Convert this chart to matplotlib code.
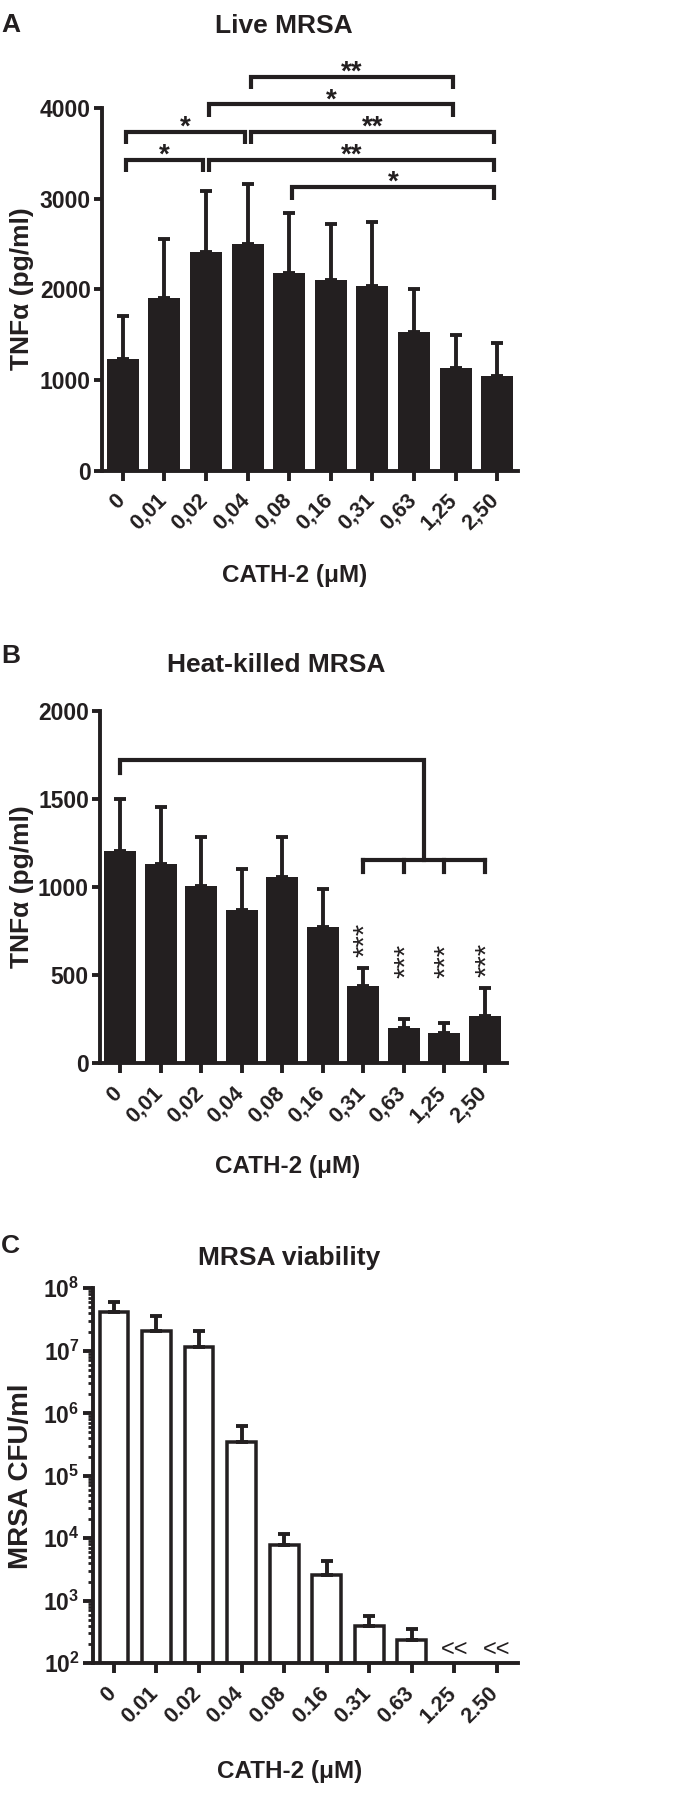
"""TNFa release by macrophages and MRSA viability across a CATH-2 dose range."""

import matplotlib

matplotlib.use("Agg")
import matplotlib.pyplot as plt
import numpy as np
from matplotlib.transforms import ScaledTranslation
from matplotlib.ticker import FixedLocator, LogLocator, NullFormatter

FIG_W, FIG_H = 681, 1793
INK = "#231f20"

DOSES_COMMA = ["0", "0,01", "0,02", "0,04", "0,08", "0,16", "0,31", "0,63", "1,25", "2,50"]
DOSES_DOT = ["0", "0.01", "0.02", "0.04", "0.08", "0.16", "0.31", "0.63", "1.25", "2.50"]

# panel A: live MRSA, TNFa (pg/ml), mean and top of the SD bar
LIVE_TNF = [1234, 1902, 2409, 2505, 2181, 2101, 2035, 1528, 1135, 1043]
LIVE_TNF_UPPER = [1708, 2556, 3085, 3162, 2846, 2718, 2740, 2001, 1498, 1403]
LIVE_PAIRS = [(4, 9), (0, 2), (2, 9), (0, 3), (3, 9), (2, 8), (3, 8)]
LIVE_STARS = ["*", "*", "**", "*", "**", "*", "**"]
LIVE_TIER = [0, 1, 1, 2, 2, 3, 4]

# panel B: heat-killed MRSA
HEAT_TNF = [1203, 1133, 1006, 871, 1055, 775, 439, 203, 174, 269]
HEAT_TNF_UPPER = [1500, 1451, 1286, 1102, 1286, 989, 542, 254, 229, 428]
HEAT_CONTROL = 0
HEAT_TREATED = [6, 7, 8, 9]
HEAT_STARS = "***"

# panel C: viability, CFU/ml (nan = below detection)
VIAB_CFU = [4.2e7, 2.1e7, 1.15e7, 3.5e5, 7.7e3, 2.6e3, 3.9e2, 2.4e2, np.nan, np.nan]
VIAB_CFU_UPPER = [6.0e7, 3.6e7, 2.1e7, 6.2e5, 1.17e4, 4.3e3, 5.8e2, 3.6e2, np.nan, np.nan]

plt.rcParams["font.family"] = ["Liberation Sans", "DejaVu Sans"]
plt.rcParams["font.weight"] = "bold"
plt.rcParams["mathtext.fontset"] = "custom"
plt.rcParams["mathtext.rm"] = "Liberation Sans:bold"
plt.rcParams["mathtext.bf"] = "Liberation Sans:bold"
plt.rcParams["mathtext.default"] = "bf"

LW = 2.8
YTICK, XTICK, TITLE, XLABEL = 16.5, 15.5, 19, 17.5


def fy(y):
    return 1 - y / FIG_H


fig = plt.figure(figsize=(FIG_W / 100, FIG_H / 100), dpi=100)


def add_axes_px(left, top, right, bottom):
    return fig.add_axes(
        [left / FIG_W, 1 - bottom / FIG_H, (right - left) / FIG_W, (bottom - top) / FIG_H]
    )


def style_axis(ax, labels):
    ax.spines[["top", "right"]].set_visible(False)
    for side in ("left", "bottom"):
        ax.spines[side].set_linewidth(LW)
        ax.spines[side].set_color(INK)
    ax.tick_params(axis="both", width=LW, color=INK, labelcolor=INK)
    ax.tick_params(axis="y", length=5.5, pad=2.5, labelsize=YTICK)
    ax.tick_params(axis="x", length=7, pad=7, labelsize=XTICK)
    ax.set_xticks(np.arange(len(labels)))
    ax.set_xticklabels(labels, rotation=45, ha="right", va="top")
    shift = ScaledTranslation(4.5 / 72, 0, fig.dpi_scale_trans)
    for lbl in ax.get_xticklabels():
        lbl.set_transform(lbl.get_transform() + shift)


def draw_bars(ax, means, upper, filled, width):
    means = np.asarray(means, dtype=float)
    upper = np.asarray(upper, dtype=float)
    x = np.arange(len(means))
    ok = np.isfinite(means)
    if filled:
        ax.bar(x[ok], means[ok], width=width, color=INK, edgecolor=INK, linewidth=0, zorder=2)
    else:
        ax.bar(x[ok], means[ok], width=width, color="white", edgecolor=INK,
               linewidth=LW * 0.9, zorder=2)
    err = upper[ok] - means[ok]
    ax.errorbar(x[ok], means[ok], yerr=[np.zeros_like(err), err], fmt="none",
                ecolor=INK, elinewidth=LW, capsize=4.5, capthick=LW, zorder=3)


# ---------------- A ----------------
ax_a = add_axes_px(102, 53.7, 518, 470.5)
draw_bars(ax_a, LIVE_TNF, LIVE_TNF_UPPER, True, 0.77)
style_axis(ax_a, DOSES_COMMA)
ax_a.set_xlim(-0.5, 9.5)
ax_a.set_ylim(0, 4600)
ax_a.set_yticks([0, 1000, 2000, 3000, 4000])
ax_a.spines["left"].set_bounds(0, 4000)

base, step, drop, inset = 3125, 305, 135, 0.07
for (a, b), stars, tier in zip(LIVE_PAIRS, LIVE_STARS, LIVE_TIER):
    y = base + tier * step
    xa, xb = a + inset, b - inset
    ax_a.plot([xa, xa, xb, xb], [y - drop, y, y, y - drop], color=INK, lw=3,
              clip_on=False, solid_joinstyle="miter", solid_capstyle="butt")
    ax_a.text((a + b) / 2, y - 30, stars, ha="center", va="baseline", fontsize=20,
              fontweight="bold", color=INK)

# ---------------- B ----------------
ax_b = add_axes_px(100, 710.7, 507, 1063.3)
draw_bars(ax_b, HEAT_TNF, HEAT_TNF_UPPER, True, 0.78)
style_axis(ax_b, DOSES_COMMA)
ax_b.set_xlim(-0.5, 9.55)
ax_b.set_ylim(0, 2000)
ax_b.set_yticks([0, 500, 1000, 1500, 2000])

y_top, y_low, drop = 1720, 1155, 72
mid = (HEAT_TREATED[0] + HEAT_TREATED[-1]) / 2
ax_b.plot([HEAT_CONTROL, HEAT_CONTROL, mid, mid], [y_top - drop, y_top, y_top, y_low],
          color=INK, lw=3, solid_joinstyle="miter")
ax_b.plot([HEAT_TREATED[0], HEAT_TREATED[-1]], [y_low, y_low], color=INK, lw=3)
for t in HEAT_TREATED:
    ax_b.plot([t, t], [y_low, y_low - drop], color=INK, lw=3)
    y_star = max(HEAT_TNF_UPPER[t] + 60, 485)
    ax_b.text(t + 0.05, y_star, HEAT_STARS, rotation=90, ha="center", va="bottom",
              fontsize=21, fontweight="normal", color=INK)

# ---------------- C ----------------
ax_c = add_axes_px(92.7, 1288.3, 518, 1663.3)
ax_c.set_yscale("log")
draw_bars(ax_c, VIAB_CFU, VIAB_CFU_UPPER, False, 0.68)
style_axis(ax_c, DOSES_DOT)
ax_c.set_xlim(-0.5, 9.5)
ax_c.set_ylim(1e2, 1e8)
ax_c.yaxis.set_major_locator(FixedLocator([10.0 ** k for k in range(2, 9)]))
ax_c.set_yticklabels([f"$10^{{{k}}}$" for k in range(2, 9)])
ax_c.yaxis.set_minor_locator(LogLocator(base=10, subs=np.arange(2, 10)))
ax_c.yaxis.set_minor_formatter(NullFormatter())
ax_c.tick_params(axis="y", which="minor", length=3.5, width=2, color=INK)
ax_c.tick_params(axis="y", which="major", length=7)
for i, v in enumerate(VIAB_CFU):
    if not np.isfinite(v):
        ax_c.annotate("<<", (i, 1e2), xytext=(0, 2), textcoords="offset points",
                      ha="center", va="bottom", fontsize=17, fontweight="normal", color=INK)

# ---------------- texts ----------------
for letter, y in (("A", 32), ("B", 663), ("C", 1253)):
    fig.text(1 / FIG_W, fy(y), letter, ha="left", va="baseline", fontsize=19, color=INK)

for title, x, y in (("Live MRSA", 283.5, 33), ("Heat-killed MRSA", 276, 672),
                    ("MRSA viability", 289.5, 1265)):
    fig.text(x / FIG_W, fy(y), title, ha="center", va="baseline", fontsize=TITLE, color=INK)

for x, y in ((294.5, 581.7), (287.5, 1173), (290, 1778)):
    fig.text(x / FIG_W, fy(y), "CATH-2 (\u03bcM)", ha="center", va="baseline",
             fontsize=XLABEL, color=INK)

for label, x, y, size in (("TNF\u03b1 (pg/ml)", 22, 289, 19), ("TNF\u03b1 (pg/ml)", 22, 887, 19),
                          ("MRSA CFU/ml", 21, 1476, 20)):
    fig.text(x / FIG_W, fy(y), label, rotation=90, ha="center", va="center",
             fontsize=size, color=INK)

fig.savefig("out.png", dpi=100)
